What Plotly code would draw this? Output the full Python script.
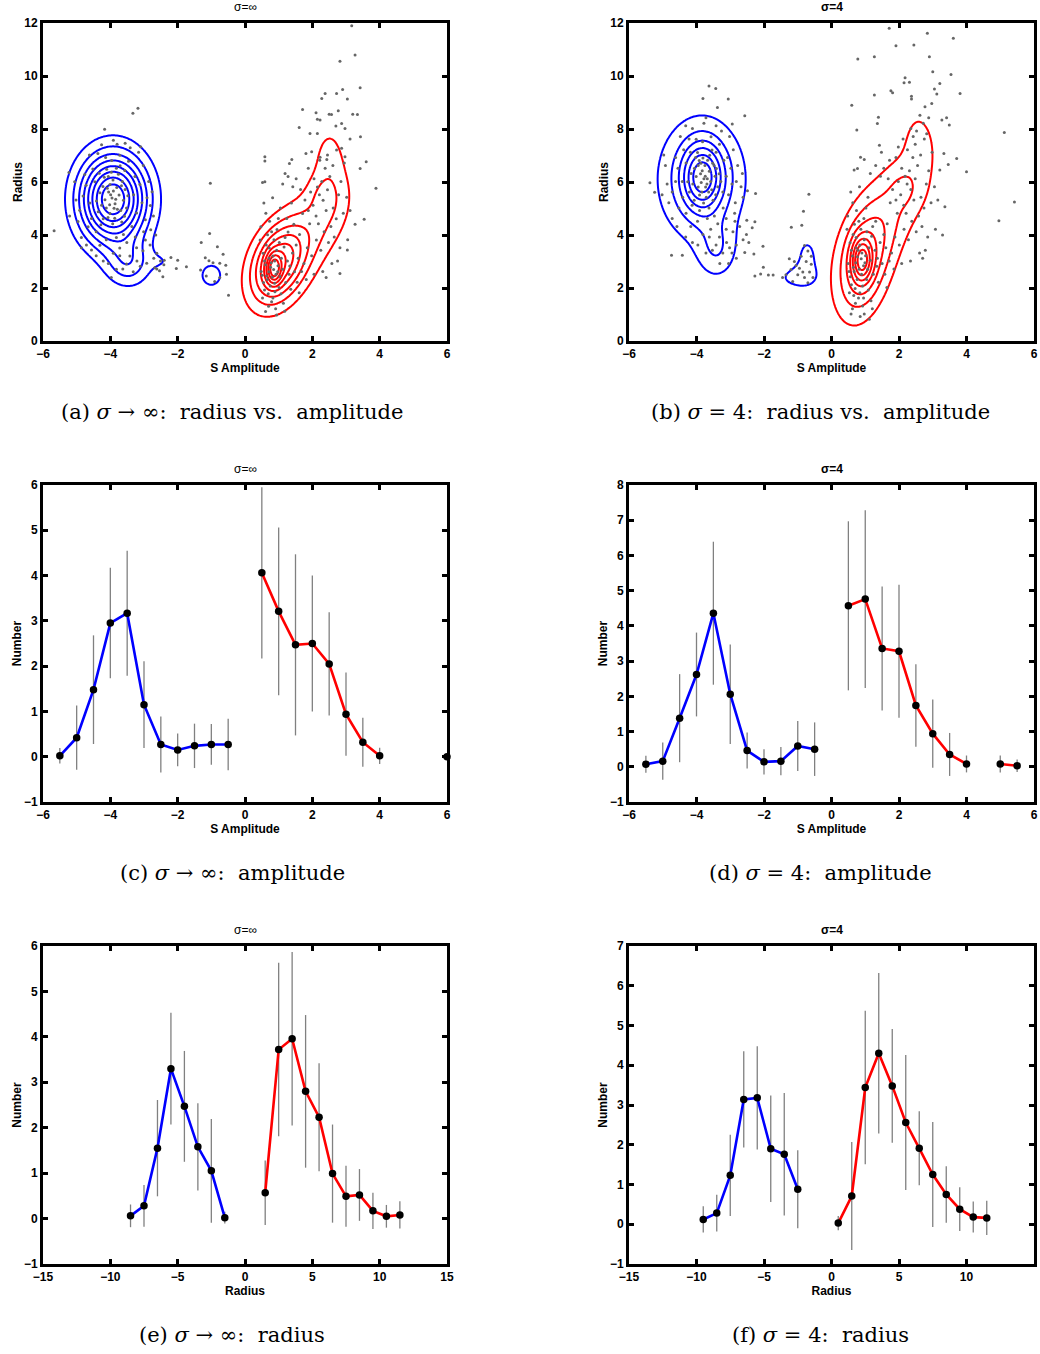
import numpy as np
import plotly.graph_objects as go

W, H = 1040, 1354

# ---------------- scatter samples: (S amplitude, radius) ----------------
pts_inf = [
    # left population
    (-3.95,5.40),(-4.05,5.62),(-3.86,5.18),(-4.12,5.02),(-3.81,5.79),(-3.92,6.08),(-4.01,4.81),(-3.74,5.51),
    (-4.16,5.33),(-3.69,4.92),(-4.22,5.83),(-3.97,6.37),(-3.87,4.63),(-4.06,6.21),(-3.64,6.02),(-4.26,5.12),
    (-3.61,5.31),(-4.31,5.59),(-3.91,5.66),(-4.02,5.14),(-3.79,4.97),(-4.11,6.48),(-3.71,6.61),(-4.36,4.88),
    (-3.56,5.72),(-3.93,4.42),(-4.21,4.61),(-3.66,4.49),(-4.01,5.91),(-3.84,5.35),(-4.09,5.76),(-3.76,6.29),
    (-4.41,5.28),(-3.52,5.02),(-4.46,6.01),(-3.57,6.43),(-3.96,6.81),(-4.14,6.92),(-3.72,7.01),(-3.46,6.78),
    (-3.89,5.01),(-4.07,4.66),(-3.99,5.52),(-3.82,6.52),(-4.18,6.18),(-4.28,4.39),(-3.58,4.71),(-3.67,5.86),
    (-4.33,6.33),(-3.48,5.48),
    (-4.61,5.21),(-4.72,5.88),(-4.56,4.62),(-4.81,5.47),(-4.52,6.49),(-4.66,4.31),(-4.42,4.12),(-4.91,4.93),
    (-4.76,6.28),(-4.37,7.08),(-3.31,5.52),(-3.27,6.21),(-3.22,4.83),(-3.36,4.32),(-3.12,5.91),(-3.41,7.29),
    (-3.02,6.62),(-3.16,7.12),(-3.06,5.22),(-2.96,4.58),(-2.91,5.41),(-2.86,6.02),(-3.61,4.02),(-3.82,3.91),
    (-4.12,3.82),(-4.31,3.61),(-3.51,3.72),(-3.72,3.51),(-3.26,3.92),(-3.01,4.12),(-2.81,5.11),(-2.76,5.63),
    (-2.72,4.72),(-5.02,5.32),(-5.06,6.01),(-4.96,4.51),(-5.21,4.72),(-4.86,3.91),(-4.71,3.62),(-4.26,7.41),
    (-3.91,7.58),(-3.56,7.46),(-4.62,7.02),
    (-3.42,3.21),(-3.21,3.02),(-3.03,3.41),(-2.82,3.62),(-2.71,3.12),(-3.52,2.91),(-3.63,2.72),(-3.32,2.61),
    (-3.11,2.82),(-2.92,2.93),(-2.62,3.31),(-2.51,3.02),(-2.41,2.88),(-3.72,3.22),(-3.91,3.31),(-4.06,2.92),
    (-3.82,2.71),(-3.22,3.52),(-2.96,3.81),(-2.62,2.72),(-4.42,3.22),(-4.21,3.02),(-3.97,2.40),
    (-3.18,8.78),(-3.33,8.59),(-4.17,7.99),(-3.10,7.33),(-3.80,7.42),(-5.23,6.36),(-1.03,5.95),(-5.67,4.16),
    (-4.86,3.52),(-4.56,3.43),(-1.05,4.06),(-1.30,3.72),(-0.82,3.56),(-0.65,3.27),(-0.49,1.73),(-2.40,3.05),
    (-2.20,3.15),(-2.00,3.05),(-2.04,2.74),(-2.54,2.65),(-2.44,2.42),(-2.68,2.76),(-1.18,3.14),(-1.07,3.03),
    (-0.75,2.93),(-0.57,2.86),(-0.55,2.52),(-0.75,2.40),(-1.32,2.68),(-1.74,2.80),(-0.95,2.95),(-1.15,2.45),
    (-0.90,2.25),(-2.80,4.20),(-2.65,4.00),
    # right population
    (0.85,2.70),(0.78,2.95),(0.92,2.52),(0.71,2.61),(0.98,2.84),(0.83,3.21),(0.66,2.32),(1.04,2.43),
    (0.75,2.08),(0.89,1.86),(0.61,2.88),(1.08,3.12),(0.94,3.42),(0.72,3.51),(0.58,3.02),(0.81,2.41),
    (1.12,2.71),(0.69,1.78),(0.55,2.21),(1.01,2.02),(0.63,3.62),(0.86,3.82),(1.16,3.55),(0.52,1.62),
    (0.79,1.48),(1.21,2.21),(0.48,2.62),(1.26,3.02),(0.67,4.01),(0.95,4.21),(1.19,3.91),(0.54,3.31),
    (0.88,2.18),(0.76,2.78),(0.97,2.61),(0.64,2.45),(1.07,1.78),(0.58,1.92),(1.31,2.52),(0.83,1.62),
    (1.14,1.42),(0.70,1.31),(0.91,1.22),(1.36,1.95),(1.41,3.32),(0.47,4.31),(0.73,4.52),(1.28,4.11),
    (0.62,4.82),(0.99,4.62),(1.05,5.02),(0.56,5.21),(0.82,5.41),(1.33,2.83),(0.45,3.81),(1.47,2.61),
    (1.52,3.62),(1.18,1.12),(0.94,0.98),(1.55,2.22),(1.61,1.82),(0.61,1.11),(1.24,4.62),(1.45,4.41),
    (1.38,5.21),(0.72,3.12),(0.88,3.02),(1.02,3.72),(0.79,4.12),(0.51,2.48),
    (1.62,4.02),(1.71,4.81),(1.85,3.52),(1.92,4.42),(2.02,5.12),(2.11,4.72),(2.21,5.52),(2.32,5.31),
    (2.41,4.92),(2.28,6.02),(2.15,5.81),(2.45,5.71),(2.52,6.21),(2.38,6.52),(1.95,5.62),(1.78,5.32),
    (1.65,5.72),(1.52,6.12),(2.62,5.02),(2.71,4.61),(2.55,4.32),(2.35,4.12),(2.12,3.81),(1.98,3.22),
    (1.75,2.92),(2.25,3.42),(2.48,3.72),(2.65,3.92),(2.82,3.52),(2.92,4.82),(2.78,5.52),(2.61,6.62),
    (2.45,7.02),(2.72,7.21),(2.22,6.82),(1.88,6.52),(1.42,5.82),(1.28,6.21),(1.12,5.92),(2.05,6.12),
    (2.85,6.02),(3.02,5.42),(3.12,4.92),(2.95,6.72),(2.58,2.92),(2.31,2.62),(2.05,2.52),(1.82,2.32),
    (2.75,3.02),(3.05,3.82),(1.58,3.12),(1.68,2.62),(2.18,4.42),(1.88,4.92),
    (3.27,10.79),(2.82,10.56),(3.42,9.56),(2.38,9.34),(2.72,9.34),(2.90,9.49),(2.28,9.15),(3.04,9.13),
    (1.71,8.74),(2.11,8.61),(2.50,8.56),(2.57,8.55),(2.77,8.69),(3.20,8.56),(3.34,8.55),(2.15,8.37),
    (2.23,8.34),(2.87,8.21),(2.70,8.11),(1.61,8.06),(2.97,8.02),(1.93,7.83),(2.15,7.83),(3.12,7.62),
    (3.43,7.71),(2.87,7.27),(0.59,6.95),(0.59,6.79),(1.39,6.85),(1.32,6.70),(1.81,7.08),(1.98,7.14),
    (2.23,6.93),(2.43,6.85),(2.97,6.95),(3.60,6.76),(3.42,6.51),(3.89,5.76),(3.54,4.59),(3.27,4.41),
    (3.04,3.43),(2.82,2.55),(2.41,2.40),(1.19,6.32),(0.52,5.98),(0.59,6.01),(3.17,11.90),
]

pts_s4 = [
    # left population
    (-3.78,6.12),(-3.88,6.31),(-3.69,5.92),(-3.95,5.81),(-3.62,6.41),(-3.75,6.62),(-3.84,5.62),(-3.58,6.02),
    (-4.01,6.21),(-3.55,5.71),(-4.06,6.52),(-3.81,6.91),(-3.71,5.42),(-3.92,6.81),(-3.48,6.62),(-4.11,5.92),
    (-3.45,6.22),(-4.16,6.32),(-3.74,6.22),(-3.86,5.98),(-3.64,5.62),(-3.97,7.11),(-3.54,7.21),(-4.21,5.62),
    (-3.41,6.51),(-3.79,5.21),(-4.07,5.31),(-3.51,5.31),(-3.87,6.71),(-3.68,6.12),(-3.95,6.62),(-3.61,7.01),
    (-4.26,6.01),(-3.37,5.82),(-4.31,6.72),(-3.42,7.12),(-3.82,7.52),(-4.01,7.61),(-3.57,7.71),(-3.32,7.42),
    (-3.73,5.81),(-3.91,5.51),(-3.83,6.42),(-3.67,6.82),(-4.03,6.92),(-4.13,5.12),(-3.43,5.52),(-3.52,6.71),
    (-4.18,7.12),(-3.33,6.31),(-3.63,5.02),(-3.28,6.02),(-3.91,4.92),(-3.22,5.62),(-3.19,6.82),
    (-4.42,6.02),(-4.55,6.52),(-4.41,5.42),(-4.62,6.02),(-4.38,7.22),(-4.52,5.02),(-4.31,4.82),(-4.72,5.62),
    (-4.62,6.92),(-4.22,7.62),(-3.12,6.22),(-3.08,6.92),(-3.05,5.52),(-3.21,5.02),(-2.98,6.52),(-3.26,7.92),
    (-2.91,7.22),(-3.02,7.72),(-2.95,5.92),(-2.85,5.22),(-2.82,6.02),(-2.78,6.62),(-3.47,4.72),(-3.68,4.62),
    (-3.97,4.52),(-4.17,4.32),(-3.37,4.42),(-3.58,4.22),(-3.12,4.62),(-2.87,4.82),(-2.68,5.82),(-2.64,6.32),
    (-2.62,5.42),(-4.87,5.92),(-4.92,6.62),(-4.82,5.22),(-5.02,5.52),(-4.72,4.62),(-4.58,4.32),(-4.12,8.02),
    (-3.78,8.22),(-3.42,8.12),(-4.48,7.72),(-3.72,8.42),(-4.32,8.12),(-4.97,7.02),
    (-3.32,3.92),(-3.11,3.72),(-2.92,4.12),(-2.72,4.32),(-2.62,3.82),(-3.42,3.62),(-3.53,3.42),(-3.22,3.32),
    (-3.02,3.52),(-2.82,3.62),(-2.52,4.02),(-2.45,3.72),(-3.62,3.92),(-3.81,4.02),(-3.96,3.62),(-3.72,3.32),
    (-3.12,4.22),(-2.86,4.52),(-2.82,3.12),(-3.05,2.92),(-4.32,3.92),(-4.12,3.72),(-3.31,2.92),(-2.95,3.32),
    (-3.63,9.62),(-3.43,9.53),(-3.81,9.15),(-3.06,9.13),(-3.38,8.81),(-2.57,8.50),(-2.94,8.19),(-5.38,5.97),
    (-5.24,5.61),(-0.67,5.54),(-0.83,4.90),(-0.88,4.37),(-1.19,4.29),(-2.03,3.58),(-2.30,3.28),(-2.02,2.78),
    (-2.27,2.45),(-2.10,2.53),(-1.87,2.49),(-1.73,2.49),(-4.74,3.24),(-4.42,3.24),(-2.57,3.34),(-2.35,4.27),
    (-2.27,4.50),(-2.51,4.56),(-2.25,5.57),(-2.49,5.67),
    (-0.80,3.60),(-0.70,3.40),(-0.90,3.20),(-1.10,3.00),(-0.75,3.00),(-0.60,2.90),(-1.20,2.70),(-0.95,2.75),
    (-0.65,2.60),(-1.35,2.50),(-1.00,2.50),(-0.80,2.40),(-1.45,2.40),(-0.60,3.20),(-1.05,2.85),(-0.85,2.60),
    (-1.25,3.10),(-0.55,2.40),(-0.70,2.20),(-1.15,2.25),
    # right population
    (0.88,3.10),(0.79,3.42),(0.95,2.84),(0.72,2.95),(1.01,3.22),(0.84,3.62),(0.67,2.62),(1.07,2.71),
    (0.76,2.32),(0.92,2.08),(0.62,3.21),(1.11,3.52),(0.97,3.82),(0.73,3.91),(0.59,3.42),(0.82,2.71),
    (1.15,3.05),(0.70,1.98),(0.56,2.42),(1.04,2.32),(0.64,4.02),(0.87,4.22),(1.19,3.95),(0.53,1.82),
    (0.80,1.62),(1.24,2.52),(0.49,2.92),(1.29,3.42),(0.68,4.41),(0.96,4.62),(1.22,4.32),(0.55,3.71),
    (0.89,2.52),(0.77,3.18),(0.99,2.95),(0.65,2.78),(1.09,1.92),(0.59,2.12),(1.34,2.82),(0.84,1.82),
    (1.17,1.52),(0.71,1.42),(0.92,1.32),(1.39,2.22),(1.44,3.72),(0.48,4.72),(0.74,4.92),(1.31,4.52),
    (0.63,5.22),(1.02,5.02),(1.08,5.42),(0.57,5.62),(0.83,5.82),(1.36,3.12),(0.46,4.22),(1.50,2.92),
    (1.55,4.02),(1.21,1.22),(0.97,1.02),(1.58,2.52),(1.64,2.02),(0.62,1.22),(0.73,3.52),(0.90,3.32),
    (1.05,4.12),(0.81,4.52),(0.52,2.62),(0.66,1.72),(0.95,1.62),(0.85,0.92),(0.58,1.02),(1.12,0.82),
    (1.65,4.42),(1.74,5.22),(1.88,3.92),(1.95,4.82),(2.05,5.52),(2.14,5.12),(2.24,5.92),(2.35,5.72),
    (2.44,5.32),(2.31,6.42),(2.18,6.22),(2.48,6.12),(2.55,6.62),(2.41,6.92),(1.98,6.02),(1.81,5.72),
    (1.68,6.12),(1.55,6.52),(2.65,5.42),(2.74,5.02),(2.58,4.72),(2.38,4.52),(2.15,4.22),(2.01,3.62),
    (1.78,3.32),(2.28,3.82),(2.51,4.12),(2.68,4.32),(2.85,3.92),(2.95,5.22),(2.81,5.92),(2.64,7.02),
    (2.48,7.42),(2.75,7.62),(2.25,7.22),(1.91,6.92),(1.45,6.22),(1.31,6.62),(1.15,6.32),(2.08,6.52),
    (2.88,6.42),(3.05,5.82),(3.15,5.32),(2.98,7.12),(2.61,3.32),(2.34,3.02),(2.08,2.92),(1.85,2.72),
    (2.78,3.42),(3.08,4.22),(1.61,3.52),(1.71,3.02),(2.21,4.82),(1.91,5.32),(2.52,7.92),(2.72,8.22),
    (2.35,8.02),(2.88,8.42),(2.12,7.62),(1.98,7.32),(2.62,8.52),(2.82,7.82),(2.42,7.72),(1.72,6.82),
    (1.48,7.12),
    (1.71,11.80),(2.84,11.61),(3.61,11.42),(1.91,11.14),(2.44,11.17),(1.27,10.73),(0.78,10.64),(2.90,10.73),
    (3.00,10.16),(3.54,10.06),(2.18,9.93),(2.31,9.76),(2.15,9.75),(3.21,9.72),(1.76,9.44),(1.81,9.37),
    (1.27,9.28),(2.37,9.24),(2.37,9.13),(3.05,9.51),(3.12,9.32),(3.81,9.34),(0.60,8.90),(2.77,8.84),
    (2.97,8.96),(5.12,7.87),(5.42,5.25),(4.96,4.54),(3.36,5.07),(3.29,4.00),(2.70,3.12),(3.71,6.89),
    (4.00,6.39),(3.46,6.66),(3.33,7.08),(3.21,6.45),(3.41,8.42),(3.27,8.34),(3.49,8.15),(1.39,8.44),
    (1.36,8.21),(0.75,7.96),(1.42,7.39),(0.86,6.93),(0.97,6.85),(0.67,6.45),(0.77,6.51),
]

# ---------------- density models for the contour overlays ----------------
# each component: (mean_amp, mean_rad, sd_amp, sd_rad, corr, weight)
dens_inf_blue = [
    (-3.92, 5.35, 0.68, 1.15, 0.0, 1.00),
    (-3.45, 2.90, 0.45, 0.60, 0.0, 0.25),
    (-2.40, 3.00, 0.30, 0.30, 0.0, 0.08),
    (-1.00, 2.48, 0.24, 0.33, 0.0, 0.20),
]
dens_inf_red = [
    (0.86, 2.72, 0.15, 0.40, 0.0, 0.35),
    (0.95, 2.90, 0.55, 1.00, 0.3, 0.50),
    (1.75, 3.90, 0.85, 1.55, 0.6, 0.20),
    (2.30, 5.55, 0.30, 0.50, 0.0, 0.07),
    (2.50, 6.90, 0.35, 1.00, 0.0, 0.12),
    (2.60, 4.80, 0.45, 0.90, 0.4, 0.06),
]
dens_s4_blue = [
    (-3.82, 6.20, 0.40, 0.85, 0.0, 0.60),
    (-3.85, 6.10, 0.90, 1.60, 0.0, 0.40),
    (-3.40, 3.40, 0.40, 0.75, 0.0, 0.22),
    (-0.72, 3.20, 0.25, 0.60, 0.0, 0.18),
    (-1.00, 2.40, 0.50, 0.35, 0.0, 0.18),
]
dens_s4_red = [
    (0.90, 3.05, 0.20, 0.55, 0.0, 0.45),
    (0.95, 2.90, 0.55, 1.45, 0.3, 0.40),
    (1.80, 5.00, 1.00, 1.80, 0.65, 0.20),
    (2.15, 5.80, 0.35, 0.55, 0.0, 0.08),
    (2.55, 7.80, 0.35, 0.90, 0.0, 0.10),
]
# contour levels: (start, step, count)
lev_inf_blue = (0.111, 0.111, 8)
lev_inf_red = (0.10, 0.105, 8)
lev_s4_blue = (0.143, 0.143, 6)
lev_s4_red = (0.12, 0.12, 7)

# ---------------- amplitude histograms ----------------
amp_blue_x = [-5.5, -5, -4.5, -4, -3.5, -3, -2.5, -2, -1.5, -1, -0.5]
amp_red_x = [0.5, 1, 1.5, 2, 2.5, 3, 3.5, 4, 4.5, 5, 5.5, 6]

amp_inf_blue = [0.02, 0.42, 1.48, 2.95, 3.17, 1.15, 0.27, 0.15, 0.24, 0.27, 0.27]
amp_inf_blue_err = [0.17, 0.71, 1.20, 1.22, 1.38, 0.96, 0.62, 0.36, 0.49, 0.45, 0.57]
amp_inf_red = [4.06, 3.21, 2.47, 2.50, 2.05, 0.94, 0.32, 0.02, None, None, None, 0.0]
amp_inf_red_err = [1.89, 1.85, 2.00, 1.50, 1.14, 0.92, 0.54, 0.18, None, None, None, 0.0]

amp_s4_blue = [0.07, 0.16, 1.38, 2.62, 4.36, 2.06, 0.46, 0.14, 0.16, 0.59, 0.50]
amp_s4_blue_err = [0.24, 0.53, 1.25, 1.19, 2.03, 1.41, 0.51, 0.36, 0.40, 0.71, 0.76]
amp_s4_red = [4.57, 4.76, 3.36, 3.28, 1.74, 0.94, 0.35, 0.08, None, 0.08, 0.03, None]
amp_s4_red_err = [2.40, 2.52, 1.76, 1.89, 1.17, 0.97, 0.61, 0.24, None, 0.24, 0.18, None]

# ---------------- radius histograms ----------------
rad_inf_blue_x = [-8.5, -7.5, -6.5, -5.5, -4.5, -3.5, -2.5, -1.5]
rad_inf_blue = [0.06, 0.28, 1.55, 3.30, 2.47, 1.58, 1.05, 0.02]
rad_inf_blue_err = [0.25, 0.46, 1.06, 1.23, 1.22, 0.96, 1.14, 0.13]
rad_inf_red_x = [1.5, 2.5, 3.5, 4.5, 5.5, 6.5, 7.5, 8.5, 9.5, 10.5, 11.5]
rad_inf_red = [0.57, 3.72, 3.96, 2.80, 2.23, 0.99, 0.49, 0.52, 0.17, 0.05, 0.08]
rad_inf_red_err = [0.71, 1.91, 1.91, 1.68, 1.19, 1.08, 0.67, 0.57, 0.40, 0.25, 0.30]

rad_s4_blue_x = [-9.5, -8.5, -7.5, -6.5, -5.5, -4.5, -3.5, -2.5]
rad_s4_blue = [0.12, 0.28, 1.23, 3.14, 3.18, 1.90, 1.76, 0.88]
rad_s4_blue_err = [0.33, 0.46, 1.02, 1.21, 1.30, 1.34, 1.54, 0.98]
rad_s4_red_x = [0.5, 1.5, 2.5, 3.5, 4.5, 5.5, 6.5, 7.5, 8.5, 9.5, 10.5, 11.5]
rad_s4_red = [0.03, 0.71, 3.44, 4.30, 3.48, 2.56, 1.91, 1.25, 0.75, 0.38, 0.18, 0.16]
rad_s4_red_err = [0.18, 1.36, 1.93, 2.02, 1.43, 1.70, 0.93, 1.32, 0.71, 0.55, 0.39, 0.43]

titles = ["σ=∞", "σ=4"]
captions = [
    "(a) <i>σ</i> → ∞:  radius vs.  amplitude",
    "(b) <i>σ</i> = 4:  radius vs.  amplitude",
    "(c) <i>σ</i> → ∞:  amplitude",
    "(d) <i>σ</i> = 4:  amplitude",
    "(e) <i>σ</i> → ∞:  radius",
    "(f) <i>σ</i> = 4:  radius",
]

BLUE = "#0000ff"
RED = "#ff0000"
GREY_PT = "#666666"
GREY_ERR = "#808080"

# ---------------- layout geometry (pixels) ----------------
col_px = [(43, 447), (629, 1034)]
row_px = [(23, 341), (485, 802), (946, 1264)]


def xdom(c):
    a, b = col_px[c]
    return [a / W, b / W]


def ydom(r):
    a, b = row_px[r]
    return [1 - b / H, 1 - a / H]


fig = go.Figure()

# grid for density evaluation
gx = np.linspace(-6, 6, 301)
gy = np.linspace(0, 12, 301)
GX, GY = np.meshgrid(gx, gy)


def density(components):
    z = np.zeros_like(GX)
    for mx, my, sx, sy, rho, w in components:
        u = (GX - mx) / sx
        v = (GY - my) / sy
        q = (u * u - 2 * rho * u * v + v * v) / (1 - rho * rho)
        z += w * np.exp(-0.5 * q)
    return z


def add_contour(components, levels, color, ax):
    start, step, n = levels
    fig.add_trace(go.Contour(
        x=gx, y=gy, z=density(components),
        contours=dict(coloring="lines", start=start, end=start + step * (n - 1) + 1e-9, size=step),
        line=dict(width=2),
        colorscale=[[0, color], [1, color]],
        showscale=False, hoverinfo="skip",
        xaxis="x" + ax, yaxis="y" + ax,
    ))


def add_scatter(pts, ax):
    xs = [p[0] for p in pts]
    ys = [p[1] for p in pts]
    fig.add_trace(go.Scatter(
        x=xs, y=ys, mode="markers",
        marker=dict(size=3, color=GREY_PT),
        xaxis="x" + ax, yaxis="y" + ax, hoverinfo="skip",
    ))


def add_hist(xs, ys, errs, color, ax):
    fig.add_trace(go.Scatter(
        x=xs, y=ys, mode="markers",
        marker=dict(size=1, color="rgba(0,0,0,0)"),
        error_y=dict(type="data", array=errs, visible=True, width=0,
                     thickness=1.3, color=GREY_ERR),
        xaxis="x" + ax, yaxis="y" + ax, hoverinfo="skip", cliponaxis=False,
    ))
    fig.add_trace(go.Scatter(
        x=xs, y=ys, mode="lines+markers",
        line=dict(color=color, width=2.6),
        marker=dict(size=7.5, color="black"),
        connectgaps=False, cliponaxis=False,
        xaxis="x" + ax, yaxis="y" + ax, hoverinfo="skip",
    ))


# panels (a), (b): samples with contour overlays
add_scatter(pts_inf, "")
add_contour(dens_inf_blue, lev_inf_blue, BLUE, "")
add_contour(dens_inf_red, lev_inf_red, RED, "")
add_scatter(pts_s4, "2")
add_contour(dens_s4_blue, lev_s4_blue, BLUE, "2")
add_contour(dens_s4_red, lev_s4_red, RED, "2")

# panels (c), (d): amplitude histograms
add_hist(amp_blue_x, amp_inf_blue, amp_inf_blue_err, BLUE, "3")
add_hist(amp_red_x, amp_inf_red, amp_inf_red_err, RED, "3")
add_hist(amp_blue_x, amp_s4_blue, amp_s4_blue_err, BLUE, "4")
add_hist(amp_red_x, amp_s4_red, amp_s4_red_err, RED, "4")

# panels (e), (f): radius histograms
add_hist(rad_inf_blue_x, rad_inf_blue, rad_inf_blue_err, BLUE, "5")
add_hist(rad_inf_red_x, rad_inf_red, rad_inf_red_err, RED, "5")
add_hist(rad_s4_blue_x, rad_s4_blue, rad_s4_blue_err, BLUE, "6")
add_hist(rad_s4_red_x, rad_s4_red, rad_s4_red_err, RED, "6")

tick_font = dict(family="Liberation Sans, Arial, sans-serif", size=12, color="black", weight="bold")
title_font = dict(family="Liberation Sans, Arial, sans-serif", size=12, color="black", weight="bold")


def axis(rng, dtick, dom, anchor, title):
    return dict(
        range=rng, dtick=dtick, tick0=rng[0], domain=dom, anchor=anchor,
        showline=True, linecolor="black", linewidth=3, mirror="ticks",
        ticks="inside", ticklen=5, tickwidth=2.5, tickcolor="black",
        showgrid=False, zeroline=False, tickfont=tick_font,
        title=dict(text=title, font=title_font, standoff=0),
        automargin=False, fixedrange=True,
    )


panels = [
    # (xrange, xdtick, yrange, ydtick, xtitle, ytitle, row, col)
    ([-6, 6], 2, [0, 12], 2, "S Amplitude", "Radius", 0, 0),
    ([-6, 6], 2, [0, 12], 2, "S Amplitude", "Radius", 0, 1),
    ([-6, 6], 2, [-1, 6], 1, "S Amplitude", "Number", 1, 0),
    ([-6, 6], 2, [-1, 8], 1, "S Amplitude", "Number", 1, 1),
    ([-15, 15], 5, [-1, 6], 1, "Radius", "Number", 2, 0),
    ([-15, 15], 5, [-1, 7], 1, "Radius", "Number", 2, 1),
]

layout = dict(
    width=W, height=H, margin=dict(l=0, r=0, t=0, b=0),
    paper_bgcolor="white", plot_bgcolor="white", showlegend=False,
)
annotations = []
for i, (xr, xd, yr, yd, xt, yt, r, c) in enumerate(panels):
    suffix = "" if i == 0 else str(i + 1)
    layout["xaxis" + suffix] = axis(xr, xd, xdom(c), "y" + suffix, xt)
    layout["yaxis" + suffix] = axis(yr, yd, ydom(r), "x" + suffix, yt)
    x0, x1 = col_px[c]
    y0, y1 = row_px[r]
    annotations.append(dict(
        text=titles[c], x=(x0 + x1) / 2 / W, y=1 - (y0 - 16) / H,
        xref="paper", yref="paper", xanchor="center", yanchor="middle", showarrow=False,
        font=dict(family="Liberation Sans, Arial, sans-serif", size=12, color="black",
                  weight="bold" if c == 1 else "normal"),
    ))
    annotations.append(dict(
        text=captions[i], x=(232 if c == 0 else 820) / W, y=1 - (y1 + 71) / H,
        xref="paper", yref="paper", xanchor="center", yanchor="middle", showarrow=False,
        font=dict(family="DejaVu Serif, Liberation Serif, serif", size=21, color="black"),
    ))
layout["annotations"] = annotations
fig.update_layout(**layout)

fig.write_html("out.html")
